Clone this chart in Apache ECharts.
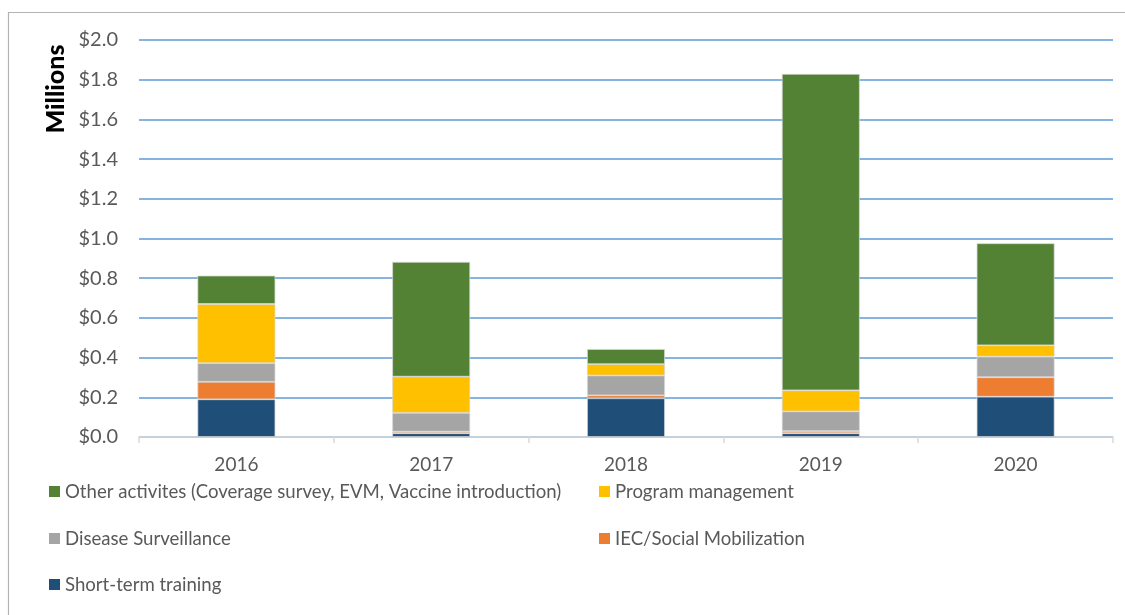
<!DOCTYPE html>
<html>
<head>
<meta charset="utf-8">
<script src="https://cdn.jsdelivr.net/npm/echarts@6/dist/echarts.min.js"></script>
<style>
html,body{margin:0;padding:0;background:#fff;}
#c{width:1125px;height:615px;}
</style>
</head>
<body>
<div id="c"></div>
<script>
var categories = ['2016', '2017', '2018', '2019', '2020'];
var shortTermTraining = [0.190, 0.019, 0.195, 0.019, 0.203];
var iecSocialMobilization = [0.088, 0.008, 0.015, 0.011, 0.098];
var diseaseSurveillance = [0.094, 0.095, 0.100, 0.099, 0.104];
var programManagement = [0.298, 0.182, 0.057, 0.106, 0.057];
var otherActivities = [0.143, 0.578, 0.076, 1.594, 0.514];
var yTicks = { min: 0, max: 2.0, interval: 0.2 };
var yAxisTitle = 'Millions';

var seriesNames = [
  'Other activites (Coverage survey, EVM, Vaccine introduction)',
  'Program management',
  'Disease Surveillance',
  'IEC/Social Mobilization',
  'Short-term training'
];
var colors = {
  other: '#548235', program: '#FFC000', disease: '#A5A5A5', iec: '#ED7D31', training: '#1F4E79'
};
var FONT = 'Lato';

function bar(name, data, color) {
  return {
    name: name, type: 'bar', stack: 'total', data: data,
    barWidth: '40%',
    itemStyle: { color: color, borderColor: 'rgba(215,215,215,0.9)', borderWidth: 0.8 },
    emphasis: { disabled: true }
  };
}

function legendAt(name, left, top) {
  return {
    data: [name], left: left, top: top, orient: 'horizontal',
    icon: 'rect', itemWidth: 11, itemHeight: 11, itemGap: 5,
    selectedMode: false,
    itemStyle: { borderWidth: 0 },
    textStyle: { color: '#595959', fontSize: 18.6, fontFamily: FONT, padding: [0, 0, 0, 0] },
    padding: 0
  };
}

var chart = echarts.init(document.getElementById('c'), null, { renderer: 'canvas' });
chart.setOption({
  animation: false,
  backgroundColor: '#fff',
  textStyle: { fontFamily: FONT },
  graphic: [{
    type: 'rect', silent: true, z: -1,
    shape: { x: 8.5, y: 12.5, width: 1130, height: 620 },
    style: { fill: 'none', stroke: '#b3b3b3', lineWidth: 1.2 }
  }, {
    type: 'text', silent: true,
    x: 56, y: 89, rotation: Math.PI / 2,
    style: { text: yAxisTitle, fill: '#000', font: '900 25px Lato', align: 'center', verticalAlign: 'middle' }
  }],
  grid: { left: 139, right: 12, top: 40, bottom: 178, containLabel: false },
  legend: [
    legendAt(seriesNames[0], 49, 482),
    legendAt(seriesNames[1], 599, 482),
    legendAt(seriesNames[2], 49, 529),
    legendAt(seriesNames[3], 599, 529),
    legendAt(seriesNames[4], 49, 575)
  ],
  xAxis: {
    type: 'category', data: categories,
    axisLine: { lineStyle: { color: '#d9d9d9', width: 1.5 } },
    axisTick: { show: true, length: 6, lineStyle: { color: '#d9d9d9', width: 1.5 } },
    axisLabel: { color: '#595959', fontSize: 19, fontFamily: FONT, margin: 18 }
  },
  yAxis: {
    type: 'value', min: yTicks.min, max: yTicks.max, interval: yTicks.interval,
    axisLine: { show: false }, axisTick: { show: false },
    axisLabel: { color: '#595959', fontSize: 20, fontFamily: FONT, margin: 21,
      formatter: function (v) { return '$' + v.toFixed(1); } },
    splitLine: { lineStyle: { color: '#5B9BD5', width: 1.6 } }
  },
  series: [
    bar(seriesNames[4], shortTermTraining, colors.training),
    bar(seriesNames[3], iecSocialMobilization, colors.iec),
    bar(seriesNames[2], diseaseSurveillance, colors.disease),
    bar(seriesNames[1], programManagement, colors.program),
    bar(seriesNames[0], otherActivities, colors.other)
  ]
});
</script>
</body>
</html>
